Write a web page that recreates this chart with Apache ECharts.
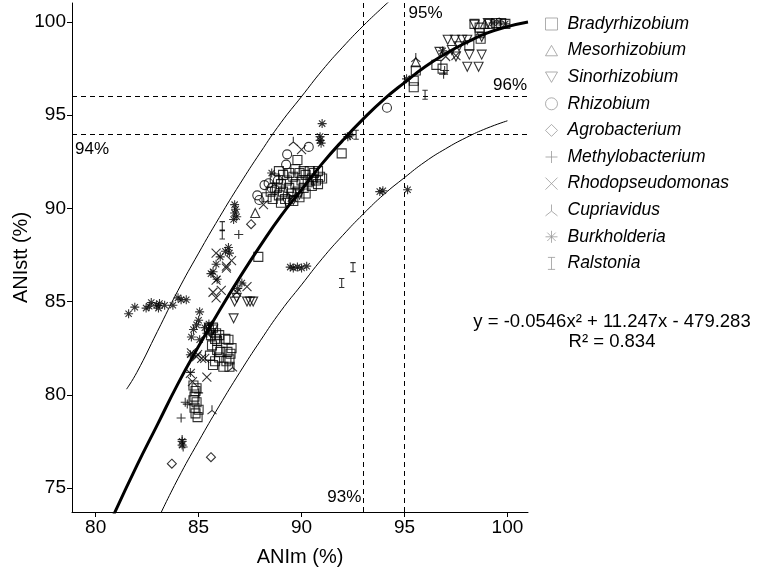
<!DOCTYPE html>
<html>
<head>
<meta charset="utf-8">
<script src="https://cdn.jsdelivr.net/npm/echarts@6/dist/echarts.min.js"></script>
<style>
  html, body { margin: 0; padding: 0; background: #fff; }
  #chart { width: 758px; height: 578px; }
</style>
</head>
<body>
<div id="chart"></div>
<script>
// axis ticks
const xTicks = [80, 85, 90, 95, 100];
const yTicks = [75, 80, 85, 90, 95, 100];

// thresholds (dashed lines)
const xCuts = [93, 95];
const yCuts = [94, 96];

// fitted curve and the two thin bounds
const fitX = [80.85, 82, 83, 84, 85, 86, 87, 88, 89, 90, 91, 92, 93, 94, 95, 96, 97, 98, 99, 100, 101];
const fitY = [73.5, 76.2, 78.4, 80.6, 82.6, 84.5, 86.3, 88.0, 89.6, 91.0, 92.4, 93.65, 94.8, 95.85, 96.75, 97.6, 98.3, 98.9, 99.4, 99.75, 100.0];
const upperX = [81.5, 82, 83, 84, 85, 86, 87, 88, 89, 90, 91, 92, 93, 94, 94.3];
const upperY = [80.3, 81.2, 83.4, 85.6, 87.6, 89.5, 91.3, 93.0, 94.6, 96.0, 97.4, 98.65, 99.8, 100.85, 101.15];
const lowerX = [83.1, 84, 85, 86, 87, 88, 89, 90, 91, 92, 93, 94, 95, 96, 97, 98, 99, 100];
const lowerY = [73.5, 75.5, 77.5, 79.4, 81.2, 82.9, 84.5, 85.9, 87.3, 88.55, 89.7, 90.75, 91.65, 92.5, 93.2, 93.8, 94.3, 94.7];

// points per genus [ANIm, ANIstt]
const bradyrhizobium = [
  [95.45,96.5],[95.45,96.85],[95.55,97.4],[96.55,97.7],[96.85,97.5],[98.15,98.75],[98.65,99.7],[98.65,99.4],
  [98.7,99.1],[99.15,99.9],[99.45,99.95],[99.7,99.95],[99.9,99.9],[98.4,99.9],
  [91.95,92.95],[89.8,92.6],[87.9,87.4],
  [88.3,90.6],[88.5,90.9],[88.6,90.5],[88.8,91.1],[88.9,90.7],[89.0,91.3],[89.1,90.9],[89.2,90.5],[89.3,91.5],
  [89.4,91.1],[89.5,90.8],[89.6,91.7],[89.7,91.3],[89.8,90.9],[89.9,91.9],[90.0,91.5],[90.1,91.1],[90.2,91.8],
  [90.3,91.4],[90.4,92.0],[90.5,91.6],[90.6,91.9],[90.7,91.5],[90.8,92.0],[90.9,91.7],[89.4,91.9],[89.1,91.8],
  [88.9,92.0],[90.1,92.0],[89.7,92.1],[90.8,91.3],[91.0,91.6],[89.0,90.3],[89.6,90.4],[90.2,90.8],[88.7,91.6],
  [89.9,90.6],[90.5,91.2],
  [85.6,83.2],[85.8,83.0],[86.0,83.2],[86.3,83.0],[86.45,82.95],[85.65,82.65],[85.9,82.4],[86.05,82.3],[86.4,82.3],
  [86.55,82.2],[85.55,82.1],[85.8,81.8],[86.0,82.0],[86.35,81.8],[86.5,81.9],[86.6,82.5],[85.7,81.6],[86.2,81.5],
  [86.5,81.5],[85.9,82.9],[85.5,83.5],[85.7,83.6],[85.85,83.3],
  [84.75,80.5],[84.85,80.2],[84.8,79.9],[84.9,79.6],[84.8,79.3],[84.85,79.0],[84.95,78.8],[84.75,79.7],[84.9,80.35],[85.0,79.2]
];
const mesorhizobium = [[87.75,89.75],[95.55,97.85],[90.4,91.5],[98.9,99.9]];
const sinorhizobium = [
  [97.1,99.05],[97.45,99.05],[97.8,99.05],[98.05,99.05],[97.3,98.5],[97.5,98.15],[98.15,98.25],[98.75,98.25],
  [98.05,97.6],[98.6,97.6],[98.75,99.2],[98.4,99.85],[99.05,99.95],[96.7,98.4],[97.65,98.7],
  [86.75,85.0],[86.85,85.2],[87.35,85.0],[87.5,85.0],[87.65,85.0],[86.7,84.1],
  [89.3,90.3],[89.6,90.45],[89.9,90.75],
  [85.5,83.6],[85.7,83.5],[85.6,83.3]
];
const rhizobium = [
  [94.15,95.4],[90.35,93.3],[89.3,92.9],[89.25,92.35],[88.2,91.25],[88.4,91.35],[87.85,90.7],[87.95,90.45],
  [88.85,91.5],[88.7,91.0],[88.55,91.1]
];
const agrobacterium = [[83.7,76.3],[85.6,76.65],[87.55,89.15]];
const methylobacterium = [
  [86.95,88.6],[84.35,79.6],[84.15,78.75],[84.45,79.5],[84.2,77.6],[84.25,77.2],[85.0,80.1],[96.95,97.4],
  [96.9,97.2],[84.6,81.2]
];
const rhodopseudomonas = [
  [86.35,86.8],[85.85,86.15],[85.85,85.2],[86.1,85.6],[85.7,85.5],[87.35,85.8],[86.85,85.5],[84.9,82.05],
  [85.3,81.95],[84.65,82.25],[84.6,81.15],[85.15,81.95],[85.4,80.95],[84.95,82.15],[84.7,80.7],[90.0,93.15],
  [88.15,90.2],[89.55,90.6],[97.5,98.2],[97.0,98.15],[86.35,86.9],[85.85,87.6],[86.6,87.2]
];
const cupriavidus = [[89.6,93.6],[86.65,81.5],[85.65,79.2],[95.55,98.1]];
const burkholderia = [
  [81.6,84.35],[81.9,84.7],[82.45,84.65],[82.7,84.95],[82.95,84.8],[83.05,84.65],[83.35,84.8],[83.75,84.8],
  [84.0,85.2],[84.15,85.1],[84.4,85.1],[82.6,84.75],[83.1,84.9],
  [86.45,87.9],[86.5,87.6],[86.05,87.4],[85.85,87.0],[85.7,86.6],[85.6,86.5],[86.3,87.7],[85.9,86.2],
  [87.1,86.0],[86.9,85.7],
  [85.05,84.45],[85.0,84.0],[84.75,83.5],[84.65,83.1],[84.9,83.75],[85.05,82.95],[84.6,82.15],[85.3,83.6],
  [85.5,83.8],[85.4,83.3],
  [86.75,90.2],[86.8,89.95],[86.75,89.75],[86.85,89.55],[86.7,89.4],[88.55,91.9],[91.0,94.55],[90.9,93.85],
  [90.9,93.65],[90.95,93.5],[92.25,93.85],[92.35,93.9],
  [89.45,86.85],[89.6,86.8],[89.8,86.85],[90.0,86.8],[90.25,86.9],[93.8,90.9],[93.95,90.95],[95.15,91.0],
  [95.1,96.95],[96.85,98.45],[99.3,99.95],[99.6,100.0],[99.9,99.9],
  [84.2,77.3],[84.2,77.5]
];
const ralstonia = [[86.15,89.05],[86.15,88.6],[92.5,86.85],[91.95,86.0],[92.65,93.95],[96.0,96.1]];

const FONT = "'Liberation Sans', Arial, sans-serif";

const genera = [
  { name: "Bradyrhizobium", data: bradyrhizobium, symbol: "rect" },
  { name: "Mesorhizobium", data: mesorhizobium, symbol: "path://M5,0L10,8.66L0,8.66Z" },
  { name: "Sinorhizobium", data: sinorhizobium, symbol: "path://M0,0L10,0L5,8.66Z" },
  { name: "Rhizobium", data: rhizobium, symbol: "circle" },
  { name: "Agrobacterium", data: agrobacterium, symbol: "diamond" },
  { name: "Methylobacterium", data: methylobacterium, symbol: "path://M5,0L5,10M0,5L10,5" },
  { name: "Rhodopseudomonas", data: rhodopseudomonas, symbol: "path://M0,0L10,10M10,0L0,10" },
  { name: "Cupriavidus", data: cupriavidus, symbol: "path://M5,0L5,5.5L0,9.5M5,5.5L10,9.5" },
  { name: "Burkholderia", data: burkholderia, symbol: "path://M5,0L5,10M0,5L10,5M1.5,1.5L8.5,8.5M8.5,1.5L1.5,8.5" },
  { name: "Ralstonia", data: ralstonia, symbol: "path://M2,0L8,0M5,0L5,10M2,10L8,10", keep: true },
];

const zip = (xs, ys) => xs.map((x, i) => [x, ys[i]]);

const chart = echarts.init(document.getElementById("chart"));

const scatterSeries = genera.map((g) => ({
  name: g.name,
  type: "scatter",
  data: g.data,
  symbol: g.symbol,
  symbolSize: 9,
  symbolKeepAspect: !!g.keep,
  itemStyle: { color: "transparent", borderColor: "#000", borderWidth: 1.1 },
  emphasis: { disabled: true },
  z: 3,
}));

const option = {
  animation: false,
  backgroundColor: "#fff",
  textStyle: { fontFamily: FONT },
  grid: { left: 72, right: 230, top: 3, bottom: 66, containLabel: false, outerBoundsMode: "none" },
  legend: {
    orient: "vertical",
    left: 540,
    top: 10,
    itemWidth: 12,
    itemHeight: 12,
    itemGap: 8.6,
    data: genera.map((g) => g.name),
    itemStyle: { color: "transparent", borderColor: "#9a9a9a", borderWidth: 1 },
    textStyle: { fontSize: 17.5, fontStyle: "italic", color: "#000", fontFamily: FONT, padding: [0, 0, 0, 5] },
  },
  xAxis: {
    type: "value",
    min: 78.85,
    max: 101.0,
    name: "ANIm (%)",
    nameLocation: "middle",
    nameGap: 35,
    nameMoveOverlap: false,
    nameTextStyle: { fontSize: 20, color: "#000", fontFamily: FONT },
    axisLine: { show: true, onZero: false, lineStyle: { color: "#000", width: 1 } },
    axisTick: { show: true, length: 5, customValues: xTicks, lineStyle: { color: "#000" } },
    axisLabel: { fontSize: 19, color: "#000", margin: 6, customValues: xTicks },
    splitLine: { show: false },
  },
  yAxis: {
    type: "value",
    min: 73.71,
    max: 101.02,
    name: "ANIstt (%)",
    nameLocation: "middle",
    nameGap: 41,
    nameMoveOverlap: false,
    nameTextStyle: { fontSize: 20, color: "#000", fontFamily: FONT },
    axisLine: { show: true, onZero: false, lineStyle: { color: "#000", width: 1 } },
    axisTick: { show: true, length: 5, customValues: yTicks, lineStyle: { color: "#000" } },
    axisLabel: { fontSize: 19, color: "#000", margin: 6, customValues: yTicks },
    splitLine: { show: false },
  },
  series: [
    ...scatterSeries,
    {
      name: "upper",
      type: "line",
      data: zip(upperX, upperY),
      smooth: true,
      symbol: "none",
      lineStyle: { color: "#000", width: 1 },
      z: 4,
    },
    {
      name: "lower",
      type: "line",
      data: zip(lowerX, lowerY),
      smooth: true,
      symbol: "none",
      lineStyle: { color: "#000", width: 1 },
      z: 4,
      markLine: {
        silent: true,
        symbol: ["none", "none"],
        label: { show: false },
        lineStyle: { color: "#000", width: 1, type: [5, 4] },
        data: [
          ...xCuts.map((v) => ({ xAxis: v })),
          ...yCuts.map((v) => ({ yAxis: v })),
        ],
      },
    },
    {
      name: "fit",
      type: "line",
      data: zip(fitX, fitY),
      smooth: true,
      symbol: "none",
      lineStyle: { color: "#000", width: 3 },
      z: 5,
    },
  ],
};

chart.setOption(option);

// threshold labels and the equation
const px = (x, y) => chart.convertToPixel({ gridIndex: 0 }, [x, y]);
const lbl = (text, x, y, align, vAlign, size) => ({
  type: "text",
  style: { text, x, y, align, verticalAlign: vAlign, fill: "#000", font: `${size || 17}px ${FONT}` },
  silent: true,
});
const p95 = px(95, 101);
const p93 = px(93, 73.71);
const p96 = px(101, 96);
const p94 = px(78.85, 94);

chart.setOption({
  graphic: [
    lbl("95%", p95[0] + 4, 5, "left", "top"),
    lbl("93%", p93[0] - 2, p93[1] - 6, "right", "bottom"),
    lbl("96%", p96[0] - 1, p96[1] - 3, "right", "bottom"),
    lbl("94%", p94[0] + 3, p94[1] + 7, "left", "top"),
    lbl("y = -0.0546x\u00B2 + 11.247x - 479.283", 612, 322, "center", "middle", 18.5),
    lbl("R\u00B2 = 0.834", 612, 342, "center", "middle", 18.5),
  ],
});
</script>
</body>
</html>
